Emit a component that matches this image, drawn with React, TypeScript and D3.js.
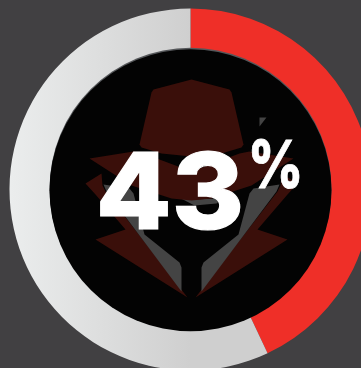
import * as d3 from "d3";

// Share of the gauge, in percent
const shareLabels = ["Affected", "Remaining"];
const shareValues = [43, 57];
const shareColors = ["#ef2f28", "url(#ringShade)"];

const WIDTH = 361;
const HEIGHT = 368;
const CX = 190.5;
const CY = 189.5;
const OUTER = 181;
const INNER = 141;

type Pt = [number, number];

// Emblem outlines, in emblem units around the vertical axis of the dial
const hat: Pt[] = [[0, -110], [38, -100], [40, -97], [52, -45], [50, -42], [30, -36], [0, -33], [-30, -36], [-50, -42], [-52, -45], [-40, -97], [-38, -100]];
const brim: Pt[] = [[-102, -31], [-58, -38], [-48, -36], [0, -18], [48, -36], [58, -38], [102, -31], [60, -4], [20, 9], [0, 11], [-20, 9], [-60, -4]];
const collarLeft: Pt[] = [[-106, -6], [-90, -16], [-89, -4], [-86, 2], [-4, 108], [-96, 50], [-66, 40], [-96, 5]];
const lapelLeft: Pt[] = [[-88, -5], [-62, -1], [-58, 4], [-47, 45], [-12, 73], [-10, 78], [-10, 102], [-85, 2]];
const hatBandHighlight: Pt[] = [[-20, 4], [2, 10], [25, 9], [40, 1], [25, 14], [3, 16]];
const glint: Pt[] = [[68, -72], [75, -72], [68, -63]];

const mirror = (pts: Pt[]): Pt[] => pts.map(([x, y]) => [-x, y] as Pt);
const outline = d3.line<Pt>().x((d) => d[0]).y((d) => d[1]).curve(d3.curveLinearClosed);

export default function App() {
  const slices = d3.pie<number>().sort(null)(shareValues);
  const arc = d3.arc<d3.PieArcDatum<number>>().innerRadius(INNER - 1).outerRadius(OUTER);
  const emblemRed = "#3a0f0a";
  const emblemGrey = "#444444";

  return (
    <svg
      width={WIDTH}
      height={HEIGHT}
      viewBox={`0 0 ${WIDTH} ${HEIGHT}`}
      style={{ position: "fixed", left: 0, top: 0, display: "block" }}
    >
      <defs>
        <linearGradient id="ringShade" gradientUnits="userSpaceOnUse" x1={10 - CX} x2={0} y1={0} y2={0}>
          <stop offset="0" stopColor="#ebeded" />
          <stop offset="1" stopColor="#cfcfcf" />
        </linearGradient>
      </defs>
      <rect width={WIDTH} height={HEIGHT} fill="#414042" />
      <g transform={`translate(${CX},${CY})`}>
        {slices.map((s, i) => (
          <path key={shareLabels[i]} d={arc(s) ?? ""} fill={shareColors[i]} />
        ))}
        <circle r={INNER} cy={-0.8} fill="#55575a" />
        <circle r={INNER} cy={0.8} fill="#030303" />
        <g transform="translate(1,0)">
          <path d={outline(hat) ?? ""} fill={emblemRed} />
          <path d={outline(collarLeft) ?? ""} fill={emblemRed} />
          <path d={outline(mirror(collarLeft)) ?? ""} fill={emblemRed} />
          <path d={outline(lapelLeft) ?? ""} fill={emblemGrey} />
          <path d={outline(mirror(lapelLeft)) ?? ""} fill={emblemGrey} />
          <path d={outline(hatBandHighlight) ?? ""} fill={emblemGrey} />
          <path d={outline(brim) ?? ""} fill={emblemRed} />
          <path d={outline(glint) ?? ""} fill={emblemGrey} />
        </g>
      </g>
      <text
        transform="translate(170,229) scale(1.04,1)"
        textAnchor="middle"
        fill="#ffffff"
        stroke="#ffffff"
        strokeWidth={1.2}
        fontFamily="Inter, sans-serif"
        fontWeight={800}
        fontSize={106}
      >
        {shareValues[0]}
      </text>
      <text
        transform="translate(275.5,188) scale(0.82,1)"
        textAnchor="middle"
        fill="#ffffff"
        stroke="#ffffff"
        strokeWidth={0.8}
        fontFamily="Inter, sans-serif"
        fontWeight={800}
        fontSize={66}
      >
        %
      </text>
    </svg>
  );
}
